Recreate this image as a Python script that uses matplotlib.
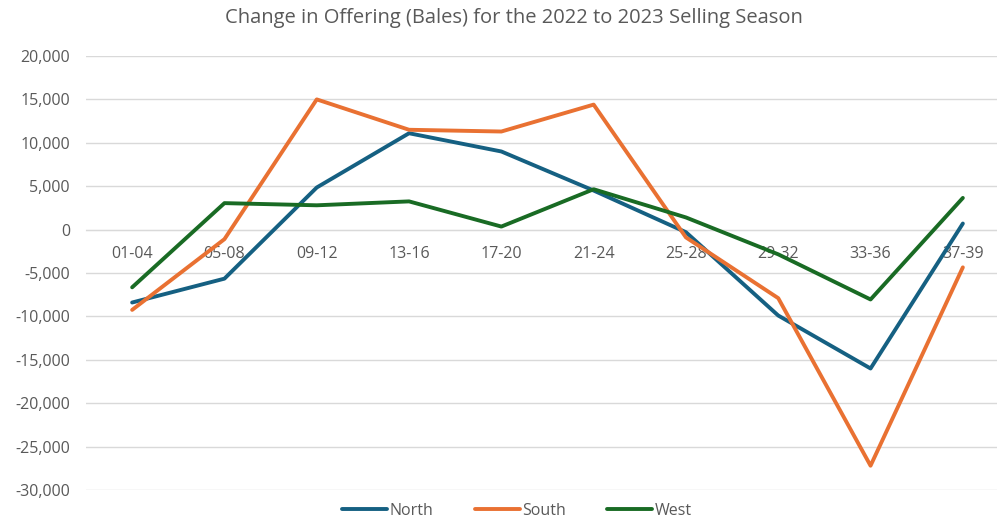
import matplotlib
matplotlib.use("Agg")
import matplotlib.pyplot as plt
from matplotlib.ticker import FuncFormatter, FixedLocator

plt.rcParams['font.family'] = ['Open Sans', 'DejaVu Sans']

categories = ["01-04", "05-08", "09-12", "13-16", "17-20", "21-24", "25-28", "29-32", "33-36", "37-39"]
north = [-8400, -5650, 4850, 11100, 9000, 4500, -300, -9900, -16000, 700]
south = [-9250, -1100, 15000, 11500, 11300, 14400, -900, -7900, -27200, -4350]
west = [-6650, 3050, 2800, 3250, 350, 4650, 1400, -2850, -8050, 3650]
series_names = ["North", "South", "West"]
colors = ["#156082", "#E97132", "#196B24"]
yticks = list(range(-30000, 20001, 5000))

fig = plt.figure(figsize=(9.97, 5.19), dpi=100)
ax = fig.add_axes([86/997, 1-490/519, 923/997, 434/519])

x = list(range(len(categories)))
for name, vals, c in zip(series_names, [north, south, west], colors):
    ax.plot(x, vals, color=c, lw=2.8, label=name, solid_capstyle='round', solid_joinstyle='round', zorder=3)

ax.set_xlim(-0.5, len(categories) - 0.5)
ax.set_ylim(-30000, 20000)
ax.yaxis.set_major_locator(FixedLocator(yticks))
ax.yaxis.set_major_formatter(FuncFormatter(lambda v, p: f"{int(v):,}"))
ax.grid(axis='y', color='#D9D9D9', lw=1.0, zorder=0)
ax.set_axisbelow(True)
for s in ['top', 'right', 'left']:
    ax.spines[s].set_visible(False)
ax.spines['bottom'].set_position(('data', 0))
ax.spines['bottom'].set_color('#D9D9D9')
ax.set_xticks(x)
ax.set_xticklabels(categories)
ax.tick_params(axis='x', length=0, pad=12, labelsize=11.5, labelcolor='#595959')
ax.tick_params(axis='y', length=0, pad=11.5, labelsize=11.5, labelcolor='#595959')

fig.text(514/997, 1-18/519, "Change in Offering (Bales) for the 2022 to 2023 Selling Season",
         ha='center', va='center', fontsize=14.5, color='#595959')

fig.legend(loc='center', bbox_to_anchor=(517/997, 1-511/519), ncol=3, frameon=False,
           fontsize=11.5, labelcolor='#595959', handlelength=2.8, handletextpad=0.15, columnspacing=2.6)

fig.savefig("out.png", dpi=100)
